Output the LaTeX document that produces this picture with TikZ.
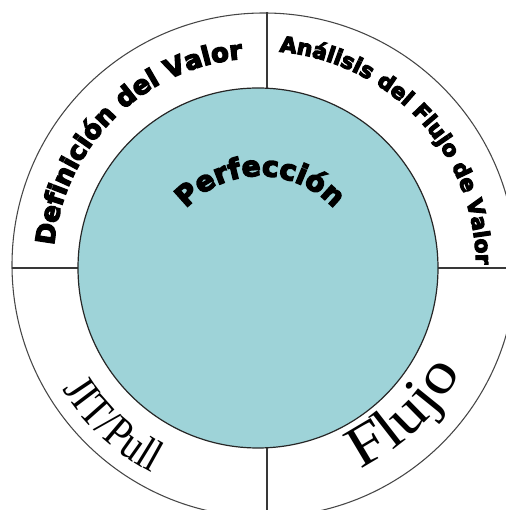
\documentclass[tikz,border=0pt]{standalone}
\usepackage{fontspec}
\setmainfont{Liberation Serif}
\newfontfamily\heavysans{DejaVu Sans}[BoldFeatures={FakeBold=5}]
\newfontfamily\serifnarrow{Liberation Serif}[FakeStretch=0.85]
\newfontfamily\serifwide{Liberation Serif}[FakeStretch=1.15]
\usetikzlibrary{decorations.text}
\definecolor{innerfill}{RGB}{158,211,216}
\definecolor{ringgray}{RGB}{70,70,70}
\tikzset{
  ringline/.style={draw=ringgray, line width=0.8pt},
  divider/.style={draw=ringgray!80!black, line width=0.8pt},
  innerdisc/.style={fill=innerfill, draw=black!85, line width=0.9pt},
  arctext/.style={decorate, decoration={text along path, text align=center, text={#1}}}
}
\begin{document}
\begin{tikzpicture}[x=0.75pt,y=0.75pt]
\useasboundingbox (0,0) rectangle (506,510);
\clip (0,0) rectangle (506,510);
\coordinate (O) at (264,245);
\coordinate (I) at (258,242);
\coordinate (T) at (261,244);
\coordinate (Pc) at (260,234);
\coordinate (vtop) at (267,498);
\coordinate (vbot) at (267,0);
\coordinate (hl) at (12,242);
\coordinate (hr) at (506,242);
% outer ring
\draw[ringline] (O) circle[radius=252];
\draw[divider] (vtop) -- (vbot);
\draw[divider] (hl) -- (hr);
% inner disc
\path[innerdisc] (I) circle[radius=180];
% texts
\path[arctext={|\heavysans\bfseries\fontsize{19.5}{22}\selectfont|Definición del Valor}]
  ([shift={(179.7:208)}]T) arc[start angle=179.7, end angle=89.7, radius=208];
\path[arctext={|\heavysans\bfseries\fontsize{16.3}{18}\selectfont|Análisis del Flujo de Valor}]
  ([shift={(88:215)}]T) arc[start angle=88, end angle=-2.5, radius=215];
\path[arctext={|\heavysans\bfseries\fontsize{21}{23}\selectfont|Perfección}]
  ([shift={(170:100)}]Pc) arc[start angle=170, end angle=10, radius=100];
\path[arctext={|\serifnarrow\fontsize{34}{36}\selectfont|JIT/Pull}]
  ([shift={(197:234)}]T) arc[start angle=197, end angle=257, radius=234];
\path[arctext={|\serifwide\fontsize{44}{46}\selectfont|Flujo}]
  ([shift={(-82:226)}]T) arc[start angle=-82, end angle=-10, radius=226];
\end{tikzpicture}
\end{document}
